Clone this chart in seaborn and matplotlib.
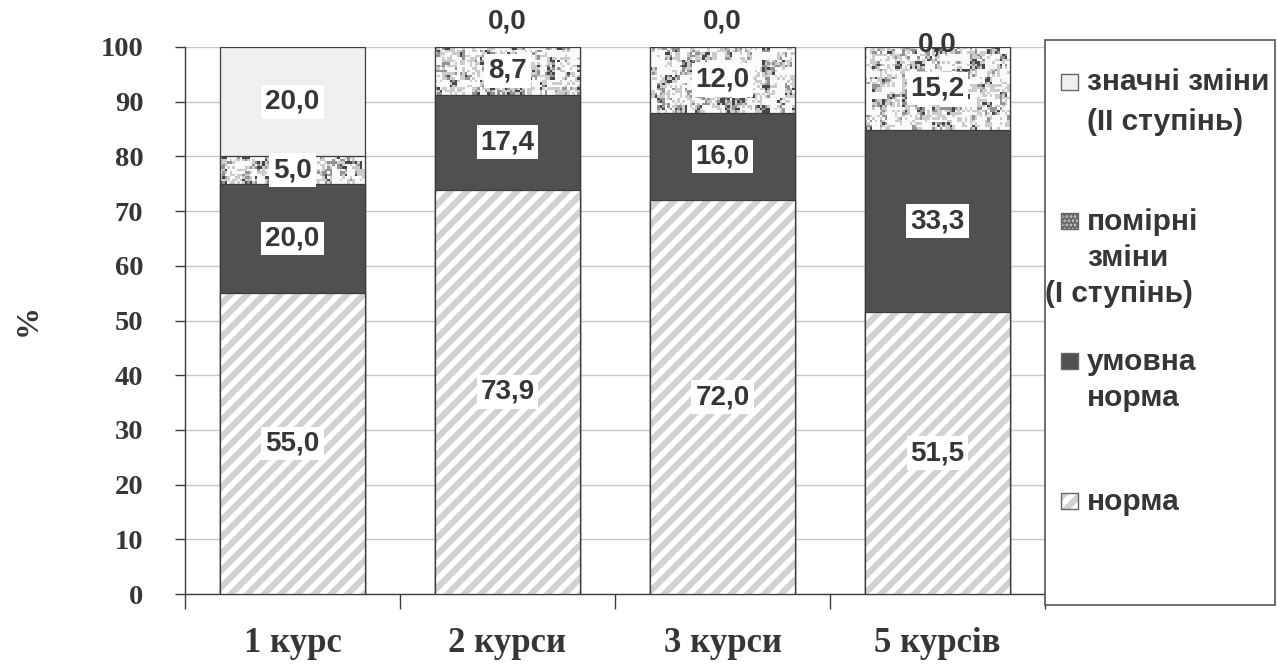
import numpy as np
import pandas as pd
import matplotlib
matplotlib.use("Agg")
import matplotlib.pyplot as plt
import seaborn as sns
from matplotlib.patches import Rectangle

# ---- data -------------------------------------------------------------
categories = ["1 курс", "2 курси", "3 курси", "5 курсів"]
norma = [55.0, 73.9, 72.0, 51.5]
umovna_norma = [20.0, 17.4, 16.0, 33.3]
pomirni_zminy = [5.0, 8.7, 12.0, 15.2]
znachni_zminy = [20.0, 0.0, 0.0, 0.0]
y_ticks = [0, 10, 20, 30, 40, 50, 60, 70, 80, 90, 100]

series_names = ["норма", "умовна норма", "помірні зміни (I ступінь)",
                "значні зміни (II ступінь)"]
series_values = [norma, umovna_norma, pomirni_zminy, znachni_zminy]

# ---- style --------------------------------------------------------------
sns.set_theme(style="white")
plt.rcParams["font.family"] = ["Liberation Sans", "DejaVu Sans"]
plt.rcParams["hatch.linewidth"] = 4.0

TEXT = "#363636"
EDGE = "#3c3c3c"
C_NORMA = "#d2d2d2"
C_UMOVNA = "#505050"
C_ZNACHNI = "#efefef"
BAR_W = 0.67
SERIF = ["Liberation Serif", "DejaVu Serif"]

fig = plt.figure(figsize=(12.77, 6.64), dpi=100)
ax = fig.add_axes([185 / 1277, 70 / 664, 860 / 1277, 547 / 664])

# cumulative tops per layer
tops = np.cumsum(np.array(series_values), axis=0)
bottoms = tops - np.array(series_values)

frames = []
for k, name in enumerate(series_names):
    frames.append(pd.DataFrame({"курс": categories, "top": tops[k],
                                "bottom": bottoms[k], "value": series_values[k],
                                "series": name}))
df = pd.concat(frames, ignore_index=True)


def layer(k):
    return df[df["series"] == series_names[k]]


common = dict(x="курс", y="top", order=categories, width=BAR_W,
              errorbar=None, saturation=1, ax=ax)

# top layer first, each lower layer painted over it
sns.barplot(data=layer(3), color=C_ZNACHNI, edgecolor=EDGE, linewidth=0.9,
            zorder=2, **common)

n_before = len(ax.patches)
sns.barplot(data=layer(2), color="#cccccc", edgecolor=EDGE, linewidth=0.9,
            zorder=3, **common)
pom_patches = ax.patches[n_before:]

sns.barplot(data=layer(1), color=C_UMOVNA, edgecolor=EDGE, linewidth=0.9,
            zorder=4, **common)
sns.barplot(data=layer(0), color=C_NORMA, edgecolor="white", linewidth=0,
            hatch="//", zorder=5, **common)
sns.barplot(data=layer(0), color=EDGE, fill=False, linewidth=0.9,
            zorder=6, **common)

# mottled texture for the "помірні зміни" segments
rng = np.random.default_rng(11)
for i, p in enumerate(pom_patches):
    x0, w = p.get_x(), p.get_width()
    seg_bottom = bottoms[2][i]
    seg_h = pomirni_zminy[i]
    if seg_h <= 0:
        continue
    nrows = max(4, int(round(seg_h * 5.47 / 2.5)))
    ncols = 58
    coarse = rng.random((nrows // 3 + 2, ncols // 3 + 2))
    coarse = np.kron(coarse, np.ones((3, 3)))[:nrows, :ncols]
    fine = rng.random((nrows, ncols))
    r = 0.55 * coarse + 0.45 * fine
    tex = np.select([r < 0.18, r < 0.30, r < 0.48], [0.28, 0.58, 0.8], 0.98)
    im = ax.imshow(tex, extent=(x0, x0 + w, seg_bottom, seg_bottom + seg_h),
                   cmap="gray", vmin=0, vmax=1, interpolation="nearest",
                   aspect="auto", origin="lower", zorder=3.5)
    im.set_clip_path(p)
    p.set_facecolor("none")
    p.set_zorder(3.6)

ax.set_xlim(-0.5, len(categories) - 0.5)
ax.set_ylim(0, 100)

# value labels
zero_offsets = [4.6, 4.6, 4.6, 0.4]
for k, vals in enumerate(series_values):
    for i, v in enumerate(vals):
        txt = f"{v:.1f}".replace(".", ",")
        if v > 0:
            ax.text(i, bottoms[k][i] + v / 2, txt, ha="center", va="center",
                    fontsize=20, fontweight="bold", color=TEXT, zorder=8,
                    bbox=dict(boxstyle="square,pad=0.14", fc="white", ec="none"))
        else:
            ax.text(i, tops[k][i] + zero_offsets[i], txt, ha="center",
                    va="center", fontsize=20, fontweight="bold", color=TEXT,
                    zorder=8, clip_on=False)

# axes, ticks and grid
ax.set_yticks(y_ticks)
ax.set_yticklabels([str(t) for t in y_ticks], fontfamily=SERIF,
                   fontweight="bold", fontsize=20.5, color=TEXT)
ax.yaxis.grid(True, color="#c8c8c8", linewidth=1.0)
ax.set_axisbelow(True)
ax.tick_params(axis="y", which="major", length=7, width=1, color=EDGE,
               left=True, pad=23)

ax.set_xticks(range(len(categories)))
ax.set_xticklabels(categories, fontfamily=SERIF, fontweight="bold",
                   fontsize=25, color=TEXT)
ax.set_xticks(np.arange(-0.5, len(categories), 1.0), minor=True)
ax.tick_params(axis="x", which="major", length=0, pad=24)
ax.tick_params(axis="x", which="minor", length=11, width=1, color=EDGE,
               bottom=True)
ax.set_xlabel("")
ax.set_ylabel("%", fontfamily=SERIF, fontweight="bold", fontsize=23,
              color=TEXT)
ax.yaxis.set_label_coords(-142 / 860, 0.5)

for side in ("top", "right"):
    ax.spines[side].set_visible(False)
for side in ("left", "bottom"):
    ax.spines[side].set_color(EDGE)
    ax.spines[side].set_linewidth(1.0)

# ---- legend box ---------------------------------------------------------
W, H = 1277.0, 664.0


def fx(px):
    return px / W


def fy(py):
    return 1 - py / H


fig.patches.append(Rectangle((fx(1045), fy(605)), fx(1275) - fx(1045),
                             fy(40) - fy(605), transform=fig.transFigure,
                             facecolor="white", edgecolor="#555555",
                             linewidth=1.2, zorder=0))

handle_styles = [
    dict(facecolor=C_ZNACHNI, edgecolor="#666666"),
    dict(facecolor="#d0d0d0", edgecolor="#666666", hatch="...."),
    dict(facecolor=C_UMOVNA, edgecolor="#666666"),
    dict(facecolor=C_NORMA, edgecolor="white", hatch="//", linewidth=0),
]
handle_rows = [82, 221, 361, 501]
for st, yy in zip(handle_styles, handle_rows):
    fig.patches.append(Rectangle((fx(1061), fy(yy + 8)), fx(1078) - fx(1061),
                                 fy(yy - 8) - fy(yy + 8),
                                 transform=fig.transFigure, **st))
fig.patches.append(Rectangle((fx(1061), fy(509)), fx(1078) - fx(1061),
                             fy(493) - fy(509), transform=fig.transFigure,
                             facecolor="none", edgecolor="#666666",
                             linewidth=1))

legend_lines = [
    (1087, 82, "значні зміни"), (1087, 122, "(II ступінь)"),
    (1087, 222, "помірні"), (1087, 258, "зміни"), (1045, 294, "(I ступінь)"),
    (1087, 362, "умовна"), (1087, 398, "норма"),
    (1087, 502, "норма"),
]
for x, y, t in legend_lines:
    fig.text(fx(x), fy(y), t, ha="left", va="center", fontsize=21.5,
             fontweight="bold", color=TEXT)

fig.savefig("out.png", dpi=100)
